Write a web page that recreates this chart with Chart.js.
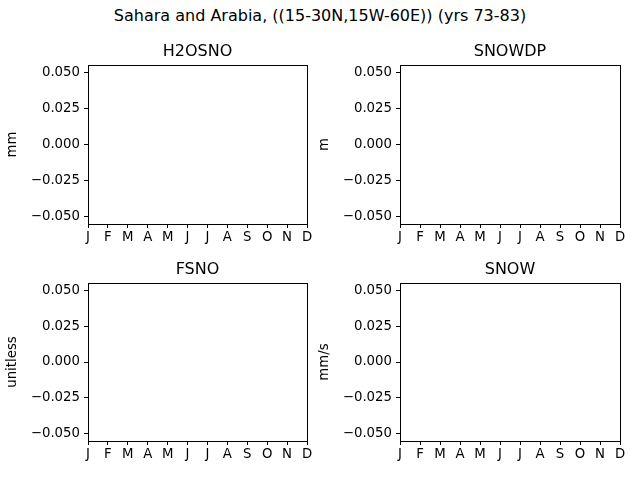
<!DOCTYPE html>
<html>
<head>
<meta charset="utf-8">
<script src="https://cdn.jsdelivr.net/npm/chart.js@4"></script>
<style>
  body { margin: 0; background: #fff; }
  #page { position: relative; width: 640px; height: 480px; font-family: "DejaVu Sans", sans-serif; }
  #suptitle { position: absolute; left: 0; width: 640px; top: 6px; text-align: center; font-size: 16px; line-height: 20px; color: #000; }
  .cell { position: absolute; }
</style>
</head>
<body>
<div id="page">
  <div id="suptitle">Sahara and Arabia, ((15-30N,15W-60E)) (yrs 73-83)</div>
  <div class="cell" style="left:0px;top:30px;width:320px;height:215px"><canvas id="chart1"></canvas></div>
  <div class="cell" style="left:312px;top:30px;width:321px;height:215px"><canvas id="chart2"></canvas></div>
  <div class="cell" style="left:0px;top:248px;width:320px;height:214px"><canvas id="chart3"></canvas></div>
  <div class="cell" style="left:312px;top:248px;width:321px;height:214px"><canvas id="chart4"></canvas></div>
</div>
<script>
  // month labels on the x axis
  const months = ['J', 'F', 'M', 'A', 'M', 'J', 'J', 'A', 'S', 'O', 'N', 'D'];
  const yTicks = [-0.05, -0.025, 0, 0.025, 0.05];
  const yMin = -0.055, yMax = 0.055;

  // nothing was plotted in the region, every month is missing
  const h2osno = [null, null, null, null, null, null, null, null, null, null, null, null];
  const snowdp = [null, null, null, null, null, null, null, null, null, null, null, null];
  const fsno = [null, null, null, null, null, null, null, null, null, null, null, null];
  const snow = [null, null, null, null, null, null, null, null, null, null, null, null];

  const names = ['H2OSNO', 'SNOWDP', 'FSNO', 'SNOW'];
  const units = ['mm', 'm', 'unitless', 'mm/s'];
  const series = [h2osno, snowdp, fsno, snow];

  const font = 'DejaVu Sans';

  // box round the plot area, like matplotlib spines, and the axes title centred on it
  const frame = {
    id: 'frame',
    afterDraw(chart) {
      const a = chart.chartArea;
      const c = chart.ctx;
      c.save();
      c.strokeStyle = '#000';
      c.lineWidth = 1;
      c.strokeRect(Math.round(a.left) + 0.5, Math.round(a.top) + 0.5,
        Math.round(a.right - a.left), Math.round(a.bottom - a.top));
      c.fillStyle = '#000';
      c.font = '16px "DejaVu Sans"';
      c.textAlign = 'center';
      c.textBaseline = 'middle';
      c.fillText(chart.data.datasets[0].label, (a.left + a.right) / 2, a.top - 13.5);
      c.restore();
    }
  };

  function makeChart(id, i) {
    const ctx = document.getElementById(id).getContext('2d');
    return new Chart(ctx, {
      type: 'line',
      data: {
        labels: months,
        datasets: [{ label: names[i], data: series[i], borderColor: '#1f77b4', pointRadius: 0, spanGaps: false }]
      },
      options: {
        responsive: true,
        maintainAspectRatio: false,
        animation: false,
        layout: { padding: { left: 0, right: 13, top: 35, bottom: 0 } },
        plugins: {
          legend: { display: false },
          tooltip: { enabled: false },
          title: { display: false }
        },
        scales: {
          x: {
            type: 'category',
            offset: false,
            border: { color: '#000', width: 1 },
            grid: { drawOnChartArea: false, drawTicks: true, tickLength: 4, color: '#000' },
            ticks: { color: '#000', autoSkip: false, maxRotation: 0, padding: 2, font: { family: font, size: 13.3 } },
            afterFit(scale) { scale.height = 21; }
          },
          y: {
            min: yMin,
            max: yMax,
            border: { color: '#000', width: 1 },
            grid: { drawOnChartArea: false, drawTicks: true, tickLength: 4, color: '#000' },
            ticks: {
              color: '#000',
              padding: 4,
              font: { family: font, size: 13.3 },
              callback: v => (v < 0 ? '\u2212' : '') + Math.abs(v).toFixed(3)
            },
            afterBuildTicks(scale) { scale.ticks = yTicks.map(v => ({ value: v })); },
            afterFit(scale) { scale.width = 88; },
            title: {
              display: true,
              text: units[i],
              color: '#000',
              font: { family: font, size: 13.3 },
              padding: { top: 5, bottom: 0 }
            }
          }
        }
      },
      plugins: [frame]
    });
  }

  makeChart('chart1', 0);
  makeChart('chart2', 1);
  makeChart('chart3', 2);
  makeChart('chart4', 3);
</script>
</body>
</html>
